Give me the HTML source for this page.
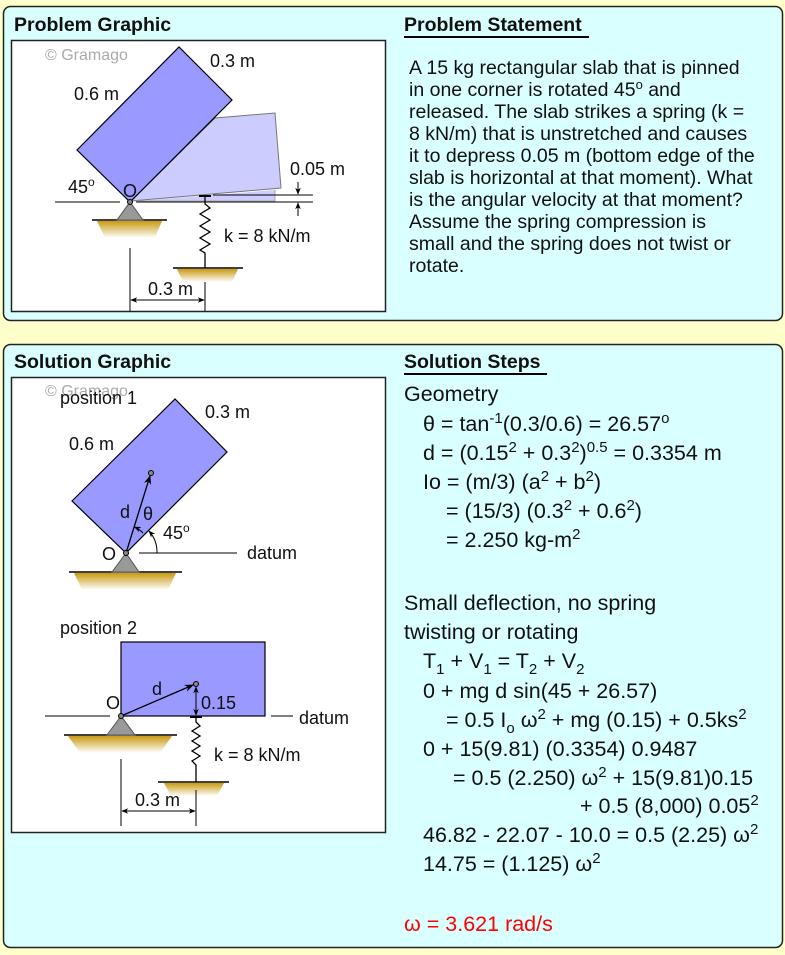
<!DOCTYPE html>
<html><head><meta charset="utf-8"><style>
html,body{margin:0;padding:0;background:#ffffcc;}
svg{display:block;}
text{font-family:"Liberation Sans",Arial,sans-serif;fill:#111;}
</style></head><body>
<svg width="785" height="955" viewBox="0 0 785 955" xmlns="http://www.w3.org/2000/svg">
<defs>
<linearGradient id="gold" x1="0" y1="0" x2="0" y2="1">
<stop offset="0" stop-color="#c99a10"/><stop offset="1" stop-color="#ffffff"/>
</linearGradient>
<marker id="ah" viewBox="0 0 10 10" refX="9" refY="5" markerWidth="7" markerHeight="7" orient="auto-start-reverse">
<path d="M0,1 L10,5 L0,9 L3,5 z" fill="#000"/>
</marker>
</defs>
<rect x="0" y="0" width="785" height="955" fill="#ffffcc"/>
<rect x="3.5" y="6.5" width="779" height="314" rx="7" fill="#d9ffff" stroke="#222" stroke-width="1.5"/>
<rect x="3.5" y="344.5" width="779" height="603" rx="7" fill="#d9ffff" stroke="#222" stroke-width="1.5"/>
<text x="14" y="31" font-size="19.5" font-weight="bold">Problem Graphic</text>
<text x="404" y="31" font-size="19.5" font-weight="bold">Problem Statement</text>
<line x1="404" y1="37" x2="589" y2="37" stroke="#000" stroke-width="2"/>
<text x="14" y="368" font-size="19.5" font-weight="bold">Solution Graphic</text>
<text x="404" y="368" font-size="19.5" font-weight="bold">Solution Steps</text>
<line x1="404" y1="374" x2="547" y2="374" stroke="#000" stroke-width="2"/>
<rect x="11.5" y="40.5" width="374" height="271" fill="#fff" stroke="#222" stroke-width="1.5"/>
<rect x="11.5" y="377.5" width="374" height="455" fill="#fff" stroke="#222" stroke-width="1.5"/>

<!-- Problem graphic -->
<text x="45" y="60" font-size="16" style="fill:#aaa">© Gramago</text>
<polygon points="131,201 215,118 275,113 281,188" fill="#ccccff" stroke="#777" stroke-width="1"/>
<polyline points="137,201 275,201 275,190" fill="#ccccff" stroke="#aaa" stroke-width="1"/>
<polygon points="77,150 179,47 232,100 130,202" fill="#9999ff" stroke="#000" stroke-width="1.2"/>
<line x1="55" y1="202" x2="120" y2="202" stroke="#000"/>
<line x1="136" y1="202" x2="313" y2="202" stroke="#000"/>
<line x1="213" y1="195" x2="313" y2="195" stroke="#000"/>
<line x1="199" y1="196" x2="211" y2="196" stroke="#000" stroke-width="2"/>
<polyline points="205,196 205,204 210,208 200,214 210,220 200,226 210,232 200,238 210,244 200,250 205,253 205,268" fill="none" stroke="#000" stroke-width="1.3"/>
<polygon points="97,221 162,221 155,238 105,238" fill="url(#gold)"/>
<line x1="92" y1="220" x2="167" y2="220" stroke="#000" stroke-width="1.5"/>
<polygon points="130,202 117,220 143,220" fill="#999" stroke="#555"/>
<circle cx="130" cy="202" r="2.5" fill="#888" stroke="#000"/>
<polygon points="177,269 238,269 232,282 183,282" fill="url(#gold)"/>
<line x1="173" y1="268" x2="243" y2="268" stroke="#000" stroke-width="1.5"/>
<line x1="130" y1="248" x2="130" y2="311" stroke="#000"/>
<line x1="205" y1="282" x2="205" y2="311" stroke="#000"/>
<line x1="131" y1="300" x2="204" y2="300" stroke="#000" marker-start="url(#ah)" marker-end="url(#ah)"/>
<line x1="298" y1="182" x2="298" y2="194" stroke="#000" marker-end="url(#ah)"/>
<line x1="298" y1="216" x2="298" y2="203" stroke="#000" marker-end="url(#ah)"/>
<text x="148" y="295" font-size="18">0.3 m</text>
<text x="290" y="175" font-size="18">0.05 m</text>
<text x="224" y="242" font-size="18">k = 8 kN/m</text>
<text x="68" y="193" font-size="18">45<tspan dy="-7" font-size="12">o</tspan></text>
<text x="123" y="197" font-size="18">O</text>
<text x="74" y="100" font-size="18">0.6 m</text>
<text x="210" y="67" font-size="18">0.3 m</text>

<!-- pos 1 -->
<text x="45" y="396" font-size="16" style="fill:#aaa">© Gramago</text>
<text x="60" y="404" font-size="18">position 1</text>
<polygon points="72,501 175,399 227,452 126,553" fill="#9999ff" stroke="#000" stroke-width="1.2"/>
<line x1="126" y1="553" x2="150" y2="476" stroke="#000" stroke-width="1.3" marker-end="url(#ah)"/>
<circle cx="151" cy="473" r="2.5" fill="#888" stroke="#000"/>
<path d="M134.5,527 A27,27 0 0 1 143,533" fill="none" stroke="#000" marker-start="url(#ah)"/>
<path d="M157,553 A32,32 0 0 0 149,531" fill="none" stroke="#000" marker-end="url(#ah)"/>
<line x1="139" y1="553" x2="237" y2="553" stroke="#000"/>
<polygon points="74,573 176,573 168,590 82,590" fill="url(#gold)"/>
<line x1="69" y1="572" x2="182" y2="572" stroke="#000" stroke-width="1.5"/>
<polygon points="126,553 112,572 139,572" fill="#999" stroke="#555"/>
<circle cx="126" cy="553" r="2.5" fill="#888" stroke="#000"/>
<text x="205" y="418" font-size="18">0.3 m</text>
<text x="69" y="450" font-size="18">0.6 m</text>
<text x="120" y="518" font-size="18">d</text>
<text x="143" y="520" font-size="18">θ</text>
<text x="163" y="539" font-size="18">45<tspan dy="-7" font-size="12">o</tspan></text>
<text x="102" y="560" font-size="18">O</text>
<text x="247" y="559" font-size="18">datum</text>

<!-- pos 2 -->
<text x="60" y="634" font-size="18">position 2</text>
<rect x="121" y="642" width="144" height="74" fill="#9999ff" stroke="#000" stroke-width="1.2"/>
<line x1="121" y1="716" x2="193" y2="685" stroke="#000" stroke-width="1.3" marker-end="url(#ah)"/>
<circle cx="196" cy="684" r="2.5" fill="#888" stroke="#000"/>
<line x1="196" y1="687" x2="196" y2="715" stroke="#000" marker-start="url(#ah)" marker-end="url(#ah)"/>
<line x1="190" y1="717" x2="202" y2="717" stroke="#000" stroke-width="2"/>
<line x1="45" y1="716" x2="110" y2="716" stroke="#000"/>
<line x1="271" y1="716" x2="293" y2="716" stroke="#000"/>
<polyline points="196,717 196,722 200,726 192,731 200,736 192,741 200,746 192,751 200,756 192,761 196,765 196,782" fill="none" stroke="#000" stroke-width="1.3"/>
<polygon points="68,736 172,736 160,753 80,753" fill="url(#gold)"/>
<line x1="64" y1="735" x2="177" y2="735" stroke="#000" stroke-width="1.5"/>
<polygon points="121,716 107,735 135,735" fill="#999" stroke="#555"/>
<circle cx="121" cy="716" r="2.5" fill="#888" stroke="#000"/>
<polygon points="164,783 224,783 217,796 171,796" fill="url(#gold)"/>
<line x1="158" y1="782" x2="229" y2="782" stroke="#000" stroke-width="1.5"/>
<line x1="121" y1="759" x2="121" y2="826" stroke="#000"/>
<line x1="196" y1="790" x2="196" y2="826" stroke="#000"/>
<line x1="122" y1="811" x2="195" y2="811" stroke="#000" marker-start="url(#ah)" marker-end="url(#ah)"/>
<text x="135" y="806" font-size="18">0.3 m</text>
<text x="214" y="761" font-size="18">k = 8 kN/m</text>
<text x="201" y="709" font-size="18">0.15</text>
<text x="152" y="695" font-size="18">d</text>
<text x="106" y="709" font-size="18">O</text>
<text x="299" y="724" font-size="18">datum</text>

<!-- Problem statement -->
<text x="409" y="74" font-size="19.5">A 15 kg rectangular slab that is pinned</text>
<text x="409" y="96" font-size="19.5">in one corner is rotated 45<tspan dy="-7" font-size="13">o</tspan><tspan dy="7">  and</tspan></text>
<text x="409" y="118" font-size="19.5">released. The slab strikes a spring (k =</text>
<text x="409" y="140" font-size="19.5">8 kN/m) that is unstretched and causes</text>
<text x="409" y="162" font-size="19.5">it to depress 0.05 m (bottom edge of the</text>
<text x="409" y="184" font-size="19.5">slab is horizontal at that moment). What</text>
<text x="409" y="206" font-size="19.5">is the angular velocity at that moment?</text>
<text x="409" y="228" font-size="19.5">Assume the spring compression is</text>
<text x="409" y="250" font-size="19.5">small and the spring does not twist or</text>
<text x="409" y="272" font-size="19.5">rotate.</text>

<!-- Solution steps -->
<g font-size="21.5">
<text x="404" y="401" font-size="21.5">Geometry</text>
<text x="423" y="431" font-size="21.5">θ = tan<tspan dy="-8" font-size="15">-1</tspan><tspan dy="8">(0.3/0.6) = 26.57</tspan><tspan dy="-8" font-size="15">o</tspan></text>
<text x="423" y="460" font-size="21.5">d = (0.15<tspan dy="-8" font-size="15">2</tspan><tspan dy="8"> + 0.3</tspan><tspan dy="-8" font-size="15">2</tspan><tspan dy="8">)</tspan><tspan dy="-8" font-size="15">0.5</tspan><tspan dy="8"> = 0.3354 m</tspan></text>
<text x="423" y="489" font-size="21.5">Io = (m/3) (a<tspan dy="-8" font-size="15">2</tspan><tspan dy="8"> + b</tspan><tspan dy="-8" font-size="15">2</tspan><tspan dy="8">)</tspan></text>
<text x="446" y="518" font-size="21.5">= (15/3) (0.3<tspan dy="-8" font-size="15">2</tspan><tspan dy="8"> + 0.6</tspan><tspan dy="-8" font-size="15">2</tspan><tspan dy="8">)</tspan></text>
<text x="446" y="547" font-size="21.5">= 2.250 kg-m<tspan dy="-8" font-size="15">2</tspan></text>
<text x="404" y="610" font-size="21.5">Small deflection, no spring</text>
<text x="404" y="639" font-size="21.5">twisting or rotating</text>
<text x="423" y="668" font-size="21.5">T<tspan dy="6" font-size="15">1</tspan><tspan dy="-6"> + V</tspan><tspan dy="6" font-size="15">1</tspan><tspan dy="-6"> = T</tspan><tspan dy="6" font-size="15">2</tspan><tspan dy="-6"> + V</tspan><tspan dy="6" font-size="15">2</tspan></text>
<text x="423" y="698" font-size="21.5">0 + mg d sin(45 + 26.57)</text>
<text x="446" y="727" font-size="21.5">= 0.5 I<tspan dy="6" font-size="15">o</tspan><tspan dy="-6"> ω</tspan><tspan dy="-8" font-size="15">2</tspan><tspan dy="8"> + mg (0.15) + 0.5ks</tspan><tspan dy="-8" font-size="15">2</tspan></text>
<text x="423" y="756" font-size="21.5">0 + 15(9.81) (0.3354) 0.9487</text>
<text x="453" y="785" font-size="21.5">= 0.5 (2.250) ω<tspan dy="-8" font-size="15">2</tspan><tspan dy="8"> + 15(9.81)0.15</tspan></text>
<text x="580" y="813" font-size="21.5">+ 0.5 (8,000) 0.05<tspan dy="-8" font-size="15">2</tspan></text>
<text x="423" y="842" font-size="21.5">46.82 - 22.07 - 10.0 = 0.5 (2.25) ω<tspan dy="-8" font-size="15">2</tspan></text>
<text x="423" y="871" font-size="21.5">14.75 = (1.125) ω<tspan dy="-8" font-size="15">2</tspan></text>
<text x="404" y="931" font-size="21.5" style="fill:#ff0000">ω = 3.621 rad/s</text>
</g>
</svg>
</body></html>
